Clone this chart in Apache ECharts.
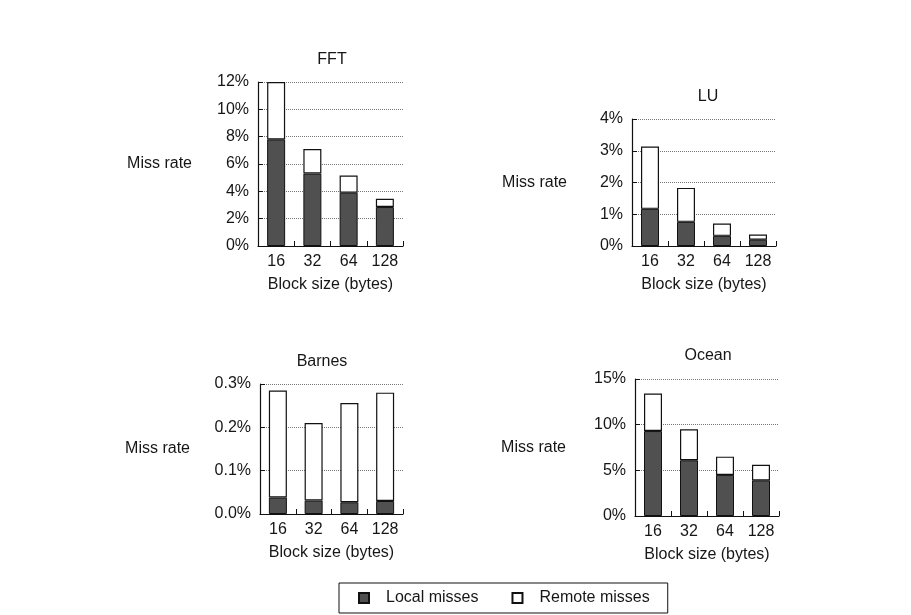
<!DOCTYPE html>
<html>
<head>
<meta charset="utf-8">
<script src="https://cdn.jsdelivr.net/npm/echarts@6/dist/echarts.min.js"></script>
<style>
  html, body { margin: 0; padding: 0; background: #fff; }
  #chart { width: 911px; height: 615px; }
</style>
</head>
<body>
<div id="chart"></div>
<script>
const categories = ['16', '32', '64', '128'];

const fftLocal = [7.8, 5.3, 3.9, 2.85];
const fftRemote = [4.2, 1.8, 1.25, 0.6];

const luLocal = [1.17, 0.76, 0.32, 0.2];
const luRemote = [1.96, 1.07, 0.39, 0.16];

const barnesLocal = [0.038, 0.031, 0.027, 0.03];
const barnesRemote = [0.247, 0.179, 0.229, 0.25];

const oceanLocal = [9.3, 6.1, 4.5, 3.9];
const oceanRemote = [4.1, 3.4, 2.0, 1.7];

const panelTitles = ['FFT', 'LU', 'Barnes', 'Ocean'];
const yMax = [12, 4, 0.3, 15];
const yInterval = [2, 1, 0.1, 5];
const yDecimals = [0, 0, 1, 0];
const xAxisName = 'Block size (bytes)';
const yAxisName = 'Miss rate';
const legendNames = ['Local misses', 'Remote misses'];

const FONT = 'Liberation Sans, Arial, Helvetica, sans-serif';
const FS = 16;
const TXT = '#161616';

const grids = [
  { left: 258, top: 82, width: 145, height: 164 },
  { left: 632, top: 119, width: 144, height: 127 },
  { left: 260, top: 384, width: 143, height: 130 },
  { left: 635, top: 379, width: 144, height: 137 }
];
const titlePos = [
  { x: 332, y: 52 },
  { x: 708, y: 89 },
  { x: 322, y: 354 },
  { x: 708, y: 348 }
];
const yNameGap = [66, 65, 70, 69];
const yNamePad = [[0,0,0,0],[0,0,0,0],[0,0,0,0],[0,0,24,0]];

const localData = [fftLocal, luLocal, barnesLocal, oceanLocal];
const remoteData = [fftRemote, luRemote, barnesRemote, oceanRemote];

const xAxes = [], yAxes = [], series = [], titles = [];
for (let i = 0; i < 4; i++) {
  titles.push({
    text: panelTitles[i],
    left: titlePos[i].x,
    top: titlePos[i].y,
    textAlign: 'center',
    padding: 0,
    textStyle: { fontFamily: FONT, fontSize: FS, fontWeight: 'normal', color: TXT }
  });
  xAxes.push({
    type: 'category',
    gridIndex: i,
    data: categories,
    boundaryGap: true,
    axisLine: { show: true, lineStyle: { color: '#111', width: 1.2 } },
    axisTick: { show: true, inside: true, length: 5, lineStyle: { color: '#111' } },
    axisLabel: { fontFamily: FONT, fontSize: FS, color: TXT, margin: 8 },
    name: xAxisName,
    nameLocation: 'middle',
    nameGap: 31,
    nameTextStyle: { fontFamily: FONT, fontSize: FS, color: TXT }
  });
  const dec = yDecimals[i];
  yAxes.push({
    type: 'value',
    gridIndex: i,
    min: 0,
    max: yMax[i],
    interval: yInterval[i],
    axisLine: { show: true, lineStyle: { color: '#111', width: 1.2 } },
    axisTick: { show: true, inside: true, length: 5, lineStyle: { color: '#111' } },
    axisLabel: {
      fontFamily: FONT, fontSize: FS, color: TXT, margin: 9,
      formatter: v => v.toFixed(dec) + '%'
    },
    splitLine: { show: true, lineStyle: { color: '#777', type: 'dotted', width: 1 } },
    name: yAxisName,
    nameLocation: 'middle',
    nameRotate: 0,
    nameGap: yNameGap[i],
    nameTextStyle: { fontFamily: FONT, fontSize: FS, color: TXT, align: 'right', padding: yNamePad[i] }
  });
  series.push({
    name: legendNames[0],
    type: 'bar',
    xAxisIndex: i,
    yAxisIndex: i,
    stack: 's' + i,
    barWidth: 18,
    data: localData[i],
    itemStyle: { color: '#505050', borderColor: '#111', borderWidth: 1 },
    emphasis: { disabled: true }
  });
  series.push({
    name: legendNames[1],
    type: 'bar',
    xAxisIndex: i,
    yAxisIndex: i,
    stack: 's' + i,
    barWidth: 18,
    data: remoteData[i],
    itemStyle: { color: '#fff', borderColor: '#111', borderWidth: 1.2 },
    emphasis: { disabled: true }
  });
}

const chart = echarts.init(document.getElementById('chart'), null, { renderer: 'canvas' });
chart.setOption({
  backgroundColor: '#fff',
  animation: false,
  title: titles,
  grid: grids,
  xAxis: xAxes,
  yAxis: yAxes,
  series: series,
  legend: {
    data: legendNames,
    left: 339,
    top: 583,
    orient: 'horizontal',
    borderColor: '#111',
    borderWidth: 1,
    padding: [7, 18, 7, 19],
    itemWidth: 10,
    itemHeight: 10,
    itemGap: 33,
    icon: 'rect',
    selectedMode: false,
    textStyle: { fontFamily: FONT, fontSize: FS, color: TXT, padding: [0, 0, 0, 12] }
  }
});
</script>
</body>
</html>
